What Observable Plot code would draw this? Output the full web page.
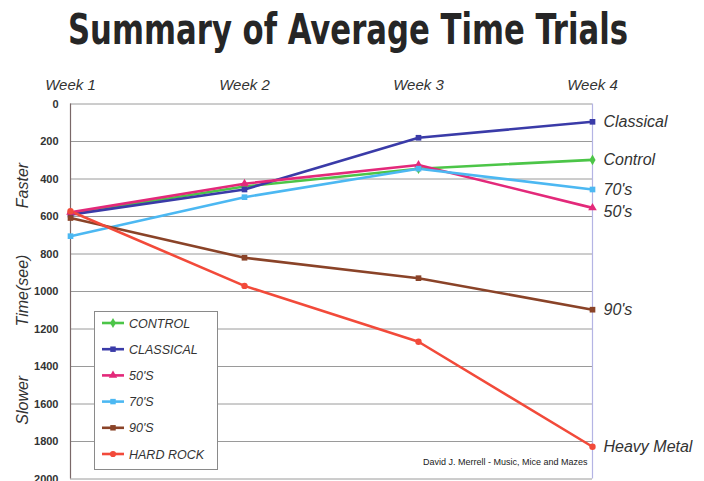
<!DOCTYPE html>
<html><head><meta charset="utf-8">
<script src="https://cdn.jsdelivr.net/npm/d3@7"></script>
<script src="https://cdn.jsdelivr.net/npm/@observablehq/plot@0.6"></script>
<style>
body{margin:0;background:#fff;width:704px;height:481px;overflow:hidden;position:relative;font-family:"Liberation Sans",Arial,sans-serif}
#title{height:60px;position:relative;white-space:nowrap}
#title span{position:absolute;left:68px;top:5px;transform-origin:0 0;font-family:"DejaVu Sans Condensed","Liberation Sans",sans-serif;font-stretch:condensed;font-weight:bold;font-size:42px;line-height:50px;color:#262626}
#legend{position:absolute;left:94px;top:311px}
#source{position:absolute;left:423px;top:457px;font-size:9px;color:#222;font-family:"Liberation Sans",Arial,sans-serif}
</style></head>
<body>
<div id="title"><span>Summary of Average Time Trials</span></div>
<div id="chart"></div>
<div id="legend"></div>
<div id="source">David J. Merrell - Music, Mice and Mazes</div>
<script>
const weeks = ["Week 1", "Week 2", "Week 3", "Week 4"];
const seriesNames = ["CONTROL", "CLASSICAL", "50'S", "70'S", "90'S", "HARD ROCK"];
const endLabels = ["Control", "Classical", "50's", "70's", "90's", "Heavy Metal"];
const control = [585, 440, 345, 298];
const classical = [590, 456, 180, 95];
const fifties = [578, 425, 325, 554];
const seventies = [705, 497, 345, 456];
const nineties = [608, 820, 929, 1097];
const hardRock = [572, 970, 1268, 1828];
const yTicks = [0, 200, 400, 600, 800, 1000, 1200, 1400, 1600, 1800, 2000];
const axisWords = [{t: "Faster", v: 435}, {t: "Time(see)", v: 995}, {t: "Slower", v: 1580}];

const colors = ["#4cc548", "#3a3ba8", "#e3297a", "#4cb8f2", "#8a4328", "#f24a3a"];
const symbols = ["diamond", "square", "triangle", "square", "square", "circle"];
const allValues = [control, classical, fifties, seventies, nineties, hardRock];

const data = [];
allValues.forEach((vals, i) => vals.forEach((v, j) => data.push({series: seriesNames[i], label: endLabels[i], week: weeks[j], time: v, idx: i})));
const last = data.filter(d => d.week === weeks[weeks.length - 1]);

// fit title to reference width
const ts = document.querySelector("#title span");
const tw = ts.getBoundingClientRect().width;
ts.style.transform = `scaleX(${560 / tw})`;

const chart = Plot.plot({
  width: 704,
  height: 421,
  marginLeft: 70,
  marginRight: 112,
  marginTop: 43.5,
  marginBottom: 2.5,
  style: {fontFamily: "Liberation Sans, Arial, sans-serif", background: "transparent", overflow: "visible"},
  x: {type: "point", domain: weeks, padding: 0, axis: null},
  y: {domain: [0, 2000], reverse: true, axis: null},
  color: {domain: seriesNames, range: colors},
  symbol: {domain: seriesNames, range: symbols},
  marks: [
    Plot.gridY(yTicks, {stroke: "#9a9a9a", strokeOpacity: 1, strokeWidth: 1}),
    Plot.ruleX([weeks[3]], {stroke: "#b4b4e4", strokeWidth: 1.2}),
    Plot.ruleX([weeks[0]], {stroke: "#7a6868", strokeWidth: 1.2}),
    Plot.axisY(yTicks, {anchor: "left", tickSize: 0, tickPadding: 12, fontSize: 11, fontWeight: "bold", fill: "#333", label: null, tickFormat: d => String(d)}),
    Plot.axisX(weeks, {anchor: "top", tickSize: 0, tickPadding: 14, fontSize: 15, fontStyle: "italic", fill: "#333", label: null}),
    Plot.text(axisWords, {text: "t", y: "v", frameAnchor: "left", textAnchor: "middle", dx: -48, rotate: -90, fontSize: 16, fontStyle: "italic", fill: "#333"}),
    Plot.line(data, {x: "week", y: "time", z: "series", stroke: "series", strokeWidth: 2.6}),
    Plot.dot(data, {x: "week", y: "time", symbol: "series", fill: "series", r: 3.2}),
    Plot.text(last.filter(d => d.label !== "50's"), {x: "week", y: "time", text: "label", dx: 11, textAnchor: "start", fontSize: 16, fontStyle: "italic", fill: "#333"}),
    Plot.text(last.filter(d => d.label === "50's"), {x: "week", y: "time", text: "label", dx: 11, dy: 4, textAnchor: "start", fontSize: 16, fontStyle: "italic", fill: "#333"})
  ]
});
document.getElementById("chart").appendChild(chart);

// legend
const lg = d3.select("#legend").append("svg").attr("width", 125).attr("height", 160);
lg.append("rect").attr("x", 0.5).attr("y", 0.5).attr("width", 123).attr("height", 158).attr("fill", "#fff").attr("stroke", "#8a8a8a");
seriesNames.forEach((s, i) => {
  const y = 12 + i * 26.2;
  const g = lg.append("g").attr("transform", `translate(0,${y})`);
  g.append("line").attr("x1", 8).attr("x2", 30).attr("stroke", colors[i]).attr("stroke-width", 2.6);
  g.append("path").attr("transform", "translate(19,0)").attr("d", d3.symbol(
    {diamond: d3.symbolDiamond, square: d3.symbolSquare, triangle: d3.symbolTriangle, circle: d3.symbolCircle}[symbols[i]], 30)()).attr("fill", colors[i]);
  g.append("text").attr("x", 35).attr("y", 4.5).attr("font-size", 12.5).attr("font-style", "italic").attr("fill", "#333").attr("font-family", "Liberation Sans, Arial, sans-serif").text(s);
});
</script>
</body></html>
